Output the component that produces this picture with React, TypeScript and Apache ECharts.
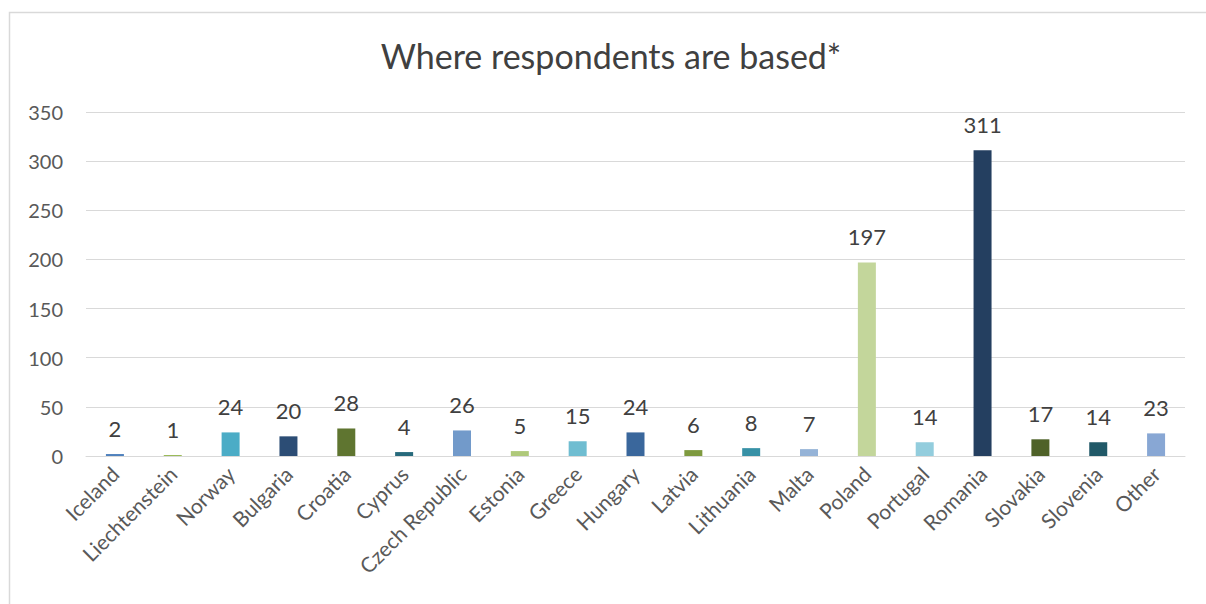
import React, { useEffect, useRef } from "react";
import * as echarts from "echarts";

const TITLE = "Where respondents are based*";
const categories = [
  "Iceland", "Liechtenstein", "Norway", "Bulgaria", "Croatia", "Cyprus",
  "Czech Republic", "Estonia", "Greece", "Hungary", "Latvia", "Lithuania",
  "Malta", "Poland", "Portugal", "Romania", "Slovakia", "Slovenia", "Other",
];
const values = [2, 1, 24, 20, 28, 4, 26, 5, 15, 24, 6, 8, 7, 197, 14, 311, 17, 14, 23];
const barColors = [
  "#4F81BD", "#9BBB59", "#4BACC6", "#2C4D75", "#5F7530", "#276A7C",
  "#729ACA", "#AFC97A", "#6FBDD1", "#3A679C", "#7E9A3F", "#3791A6",
  "#95B3D7", "#C3D69B", "#93CDDD", "#243F60", "#4F6228", "#215968", "#88A7D4",
];
const yMin = 0;
const yMax = 350;
const yStep = 50;

const FONT = "Lato, 'Open Sans', sans-serif";

export default function App() {
  const ref = useRef<HTMLDivElement>(null);
  useEffect(() => {
    if (!ref.current) return;
    const chart = echarts.init(ref.current, null, { renderer: "svg" });
    chart.setOption({
      animation: false,
      backgroundColor: "#ffffff",
      textStyle: { fontFamily: FONT },
      graphic: [
        {
          type: "rect",
          shape: { x: 9.5, y: 12.5, width: 1210, height: 610 },
          style: { fill: "none", stroke: "#D9D9D9", lineWidth: 1.5 },
          silent: true,
        },
        {
          type: "text",
          x: 611,
          y: 55,
          style: {
            text: TITLE,
            fontFamily: FONT,
            fontSize: 34,
            fill: "#404040",
            textAlign: "center",
            textVerticalAlign: "middle",
          },
        },
      ],
      grid: { left: 86, right: 21, top: 112, bottom: 148, containLabel: false },
      xAxis: {
        type: "category",
        data: categories,
        axisLine: { show: true, lineStyle: { color: "#D9D9D9", width: 1 } },
        axisTick: { show: false },
        axisLabel: {
          rotate: 45,
          interval: 0,
          margin: 14,
          fontSize: 21,
          color: "#595959",
          fontFamily: FONT,
        },
      },
      yAxis: {
        type: "value",
        min: yMin,
        max: yMax,
        interval: yStep,
        axisLine: { show: false },
        axisTick: { show: false },
        splitLine: { lineStyle: { color: "#D9D9D9", width: 1 } },
        axisLabel: { fontSize: 20, color: "#595959", margin: 23, fontFamily: FONT },
      },
      series: [
        {
          type: "bar",
          barWidth: 18,
          data: values.map((v, i) => ({ value: v, itemStyle: { color: barColors[i] } })),
          label: {
            show: true,
            position: "top",
            distance: 15,
            fontSize: 22,
            color: "#404040",
            fontFamily: FONT,
          },
        },
      ],
    });
    return () => chart.dispose();
  }, []);
  return (
    <div
      ref={ref}
      style={{ position: "fixed", left: 0, top: 0, width: 1206, height: 604, background: "#fff" }}
    />
  );
}
